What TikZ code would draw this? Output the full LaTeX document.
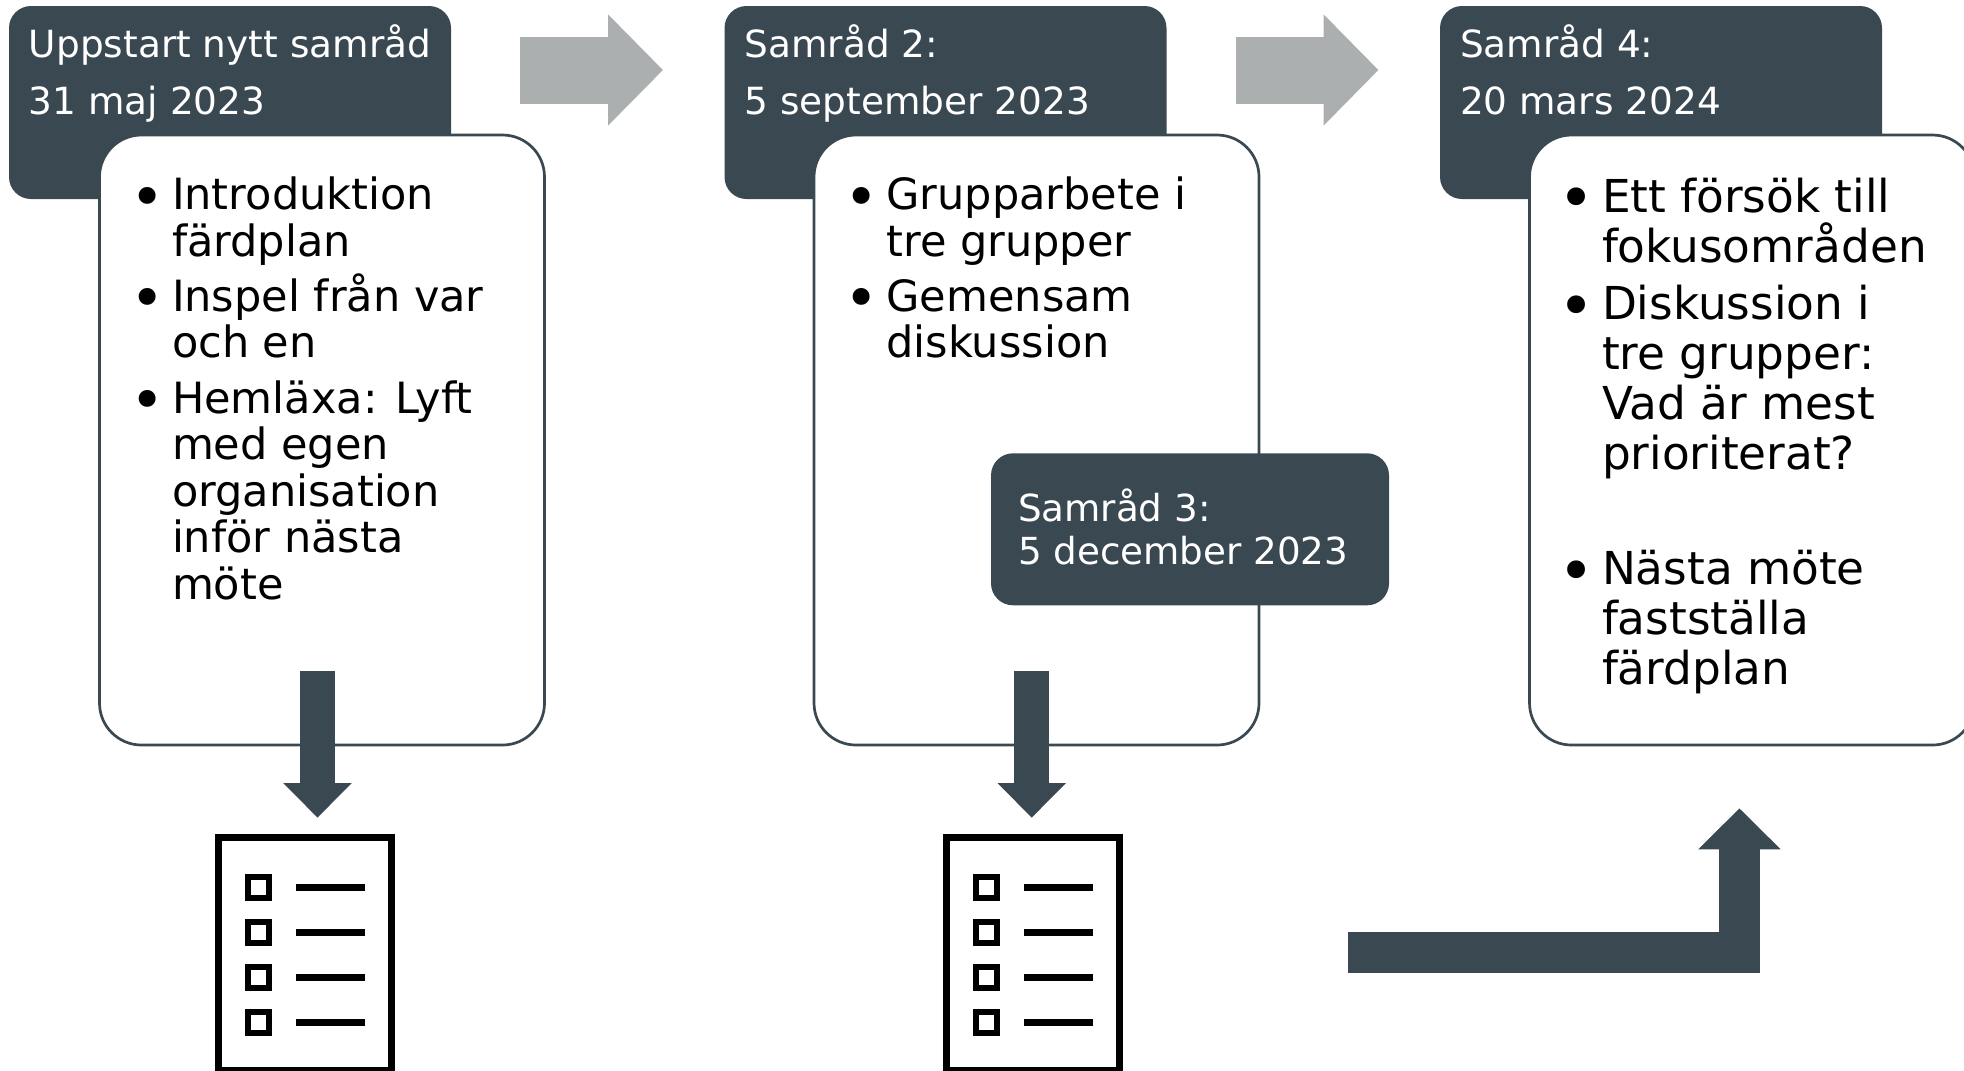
\documentclass[tikz,border=0pt]{standalone}
\usepackage{fontspec}
\setmainfont{DejaVu Sans}
\definecolor{samdark}{HTML}{394851}
\definecolor{samgrey}{HTML}{ABAFAF}
\usetikzlibrary{arrows.meta, calc}

% bullets: font size, line skip, item gap, space above
\newenvironment{punkter}[4]{%
  \begin{minipage}[c][6.1cm][t]{4.44cm}\fontsize{#1}{#2}\selectfont\lineskiplimit=-1in\vspace*{#4}%
  \begin{list}{\smash{\raisebox{-.075cm}{\scalebox{1.35}{\textbullet}}}}{\setlength{\leftmargin}{.72cm}\setlength{\labelsep}{.075cm}%
    \setlength{\labelwidth}{.645cm}\setlength{\topsep}{0pt}\setlength{\partopsep}{0pt}%
    \setlength{\parsep}{0pt}\setlength{\itemsep}{#3}}}
  {\end{list}\end{minipage}}
\newcommand{\rubriktext}[2]{\parbox[c][1.93cm][t]{4.42cm}{\leftskip=.2cm
  \fontsize{10.65}{16.2}\selectfont\vspace*{.19cm}#1\\#2}}

\begin{document}
\begin{tikzpicture}[
      rubrik/.style={fill=samdark, text=white, rounded corners=.22cm, inner sep=0pt,
                    minimum width=4.42cm, minimum height=1.93cm},
      innehall/.style={draw=samdark, fill=white, line width=.027cm, rounded corners=.42cm,
                    inner sep=0pt, minimum width=4.45cm, minimum height=6.1cm},
      greyarr/.style={-{Triangle[length=.55cm, width=1.08cm]}, line width=.67cm, samgrey},
      darkarr/.style={-{Triangle[length=.345cm, width=.66cm]}, line width=.345cm, samdark},
      backarr/.style={-{Triangle[length=.41cm, width=.8cm]}, line width=.415cm, samdark},
      doc/.style={draw=black, fill=white, line width=.065cm, inner sep=0pt,
                    minimum width=1.73cm, minimum height=2.33cm},
      ruta/.style={draw=black, line width=.06cm, inner sep=0pt, minimum size=.21cm}
    ]
      \useasboundingbox (0,0) rectangle (19.64,-10.7);
      \clip (0,0) rectangle (19.64,-10.7);

      \node[rubrik] (h1) at (2.3,-1.025) {\rubriktext{Uppstart nytt samråd}{31 maj 2023}};
      \node[rubrik] (h2) at (9.455,-1.025) {\rubriktext{Samråd 2:}{5 september 2023}};
      \node[rubrik] (h4) at (16.61,-1.025) {\rubriktext{Samråd 4:}{20 mars 2024}};

      \node[innehall] (b1) at (3.22,-4.4) {\begin{punkter}{12.25}{13.25}{.085cm}{.42cm}
        \item Introduktion\\färdplan
        \item Inspel från var\\och en
        \item Hemläxa: Lyft\\med egen\\organisation\\inför nästa\\möte
      \end{punkter}};
      \node[innehall] (b2) at (10.365,-4.4) {\begin{punkter}{12.25}{13.25}{.085cm}{.42cm}
        \item Grupparbete i\\tre grupper
        \item Gemensam\\diskussion
      \end{punkter}};
      \node[innehall] (b4) at (17.52,-4.4) {\begin{punkter}{12.9}{14.15}{.08cm}{.43cm}
        \item Ett försök till\\fokusområden
        \item Diskussion i\\tre grupper:\\Vad är mest\\prioriterat?
        \item[] \mbox{}
        \item Nästa möte\\fastställa\\färdplan
      \end{punkter}};

      \node[rubrik, minimum width=3.98cm, minimum height=1.52cm,
            font=\fontsize{10.6}{12.4}\selectfont] (h3) at (11.9,-5.293)
            {\parbox[c][1.52cm][c]{3.44cm}{Samråd 3:\\5 december 2023\par\vspace{.05cm}}};

      % grey arrows between the meetings
      \coordinate (g1a) at (5.2,-.7);
      \coordinate (g1b) at (6.63,-.7);
      \coordinate (g2a) at (12.355,-.7);
      \coordinate (g2b) at (13.785,-.7);
      \draw[greyarr] (g1a) -- (g1b);
      \draw[greyarr] (g2a) -- (g2b);

      % checklists
      \node[doc] (d1) at (3.05,-9.54) {};
      \node[doc] (d2) at (10.33,-9.54) {};
      \foreach \d in {d1,d2}
        \foreach \i/\y in {1/0,2/.45,3/.9,4/1.35} {
          \node[ruta] (\d r\i) at ($(\d.north west)+(.433,-.53-\y)$) {};
          \coordinate (\d a\i) at ($(\d r\i.center)+(.37,0)$);
          \coordinate (\d e\i) at ($(\d r\i.center)+(1.06,0)$);
          \draw[black, line width=.065cm] (\d a\i) -- (\d e\i);
        }

      % dark arrows
      \coordinate (p1) at (3.175,-6.71);
      \coordinate (p2) at (10.317,-6.71);
      \coordinate (q1) at (3.175,-8.177);
      \coordinate (q2) at (10.317,-8.177);
      \draw[darkarr] (p1) -- (q1);
      \draw[darkarr] (p2) -- (q2);

      \coordinate (r1) at (13.48,-9.525);
      \coordinate (r2) at (17.394,-8.083);
      \draw[backarr] (r1) -| (r2);
    \end{tikzpicture}
\end{document}
